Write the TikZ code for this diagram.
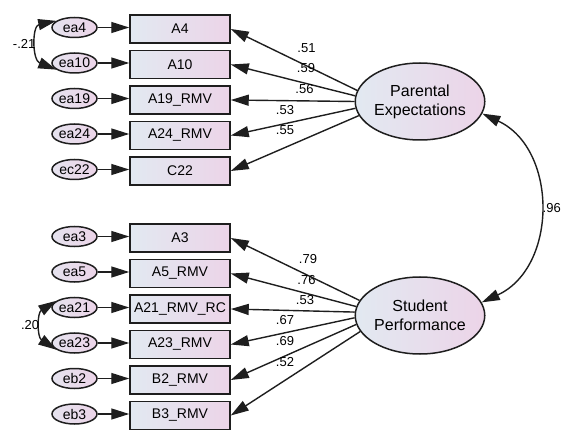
\documentclass[tikz,border=0pt]{standalone}
\usepackage{fontspec}
\setmainfont{Liberation Sans}
\usetikzlibrary{arrows.meta,shapes.geometric}
\definecolor{fillL}{RGB}{226,233,241}
\definecolor{fillR}{RGB}{236,212,232}
\definecolor{edgec}{RGB}{30,30,30}
\tikzset{
  obsbox/.style={draw=edgec, line width=1.5pt, rectangle, minimum width=100pt, minimum height=28pt, inner sep=0pt,
    left color=fillL, right color=fillR, font=\fontsize{14}{16}\selectfont},
  errell/.style={draw=edgec, line width=1.5pt, ellipse, minimum width=45pt, minimum height=20pt, inner sep=0pt,
    left color=fillL!70!fillR, right color=fillR, font=\fontsize{14}{16}\selectfont},
  latell/.style={draw=edgec, line width=1.5pt, ellipse, minimum width=120pt, minimum height=77pt, inner sep=0pt,
    left color=fillL, right color=fillR, align=center, font=\fontsize{16}{19}\selectfont},
  arr/.style={line width=1.4pt, draw=edgec, -{Triangle[length=18pt,width=11pt]}},
  dblarr/.style={line width=1.4pt, draw=edgec, {Triangle[length=18pt,width=11pt]}-{Triangle[length=18pt,width=11pt]}},
  lab/.style={inner sep=0pt, font=\fontsize{13}{15}\selectfont}
}
\begin{document}
\begin{tikzpicture}[x=1pt,y=-1pt]
\useasboundingbox (0,0) rectangle (562,430);
% observed boxes
\foreach \n/\t/\y in {A4/A4/29, A10/A10/64.5, A19/A19\_RMV/100, A24/A24\_RMV/135.5, C22/C22/171,
  A3/A3/238, A5/A5\_RMV/273.5, A21/A21\_RMV\_RC/309, A23/A23\_RMV/344.5, B2/B2\_RMV/380, B3/B3\_RMV/415.5}
  {\node[obsbox] (\n) at (180,\y) {\t};}
% error ellipses
\foreach \n/\t/\y in {ea4/ea4/27.5, ea10/ea10/63, ea19/ea19/98.5, ea24/ea24/134, ec22/ec22/169.5,
  ea3/ea3/236.5, ea5/ea5/272, ea21/ea21/307.5, ea23/ea23/343, eb2/eb2/378.5, eb3/eb3/414}
  {\node[errell] (\n) at (74.5,\y) {\t};}
% error arrows
\foreach \e/\b in {ea4/A4, ea10/A10, ea19/A19, ea24/A24, ec22/C22, ea3/A3, ea5/A5, ea21/A21, ea23/A23, eb2/B2, eb3/B3}
  {\draw[arr] (\e.east) -- (\e.east -| \b.west);}
% latent variables
\node[latell] (PE) at (420,101.5) {Parental\\Expectations};
\node[latell] (SP) at (420,315.5) {Student\\Performance};
% loadings
\draw[arr] (PE.170) -- (A4.east);
\draw[arr] (PE.175) -- (A10.east);
\draw[arr] (PE.180) -- (A19.east);
\draw[arr] (PE.186) -- (A24.east);
\draw[arr] (PE.193) -- (C22.east);
\draw[arr] (SP.166) -- (A3.east);
\draw[arr] (SP.172) -- (A5.east);
\draw[arr] (SP.177) -- (A21.east);
\draw[arr] (SP.182) -- (A23.east);
\draw[arr] (SP.188) -- (B2.east);
\draw[arr] (SP.195) -- (B3.east);
% loading labels
\node[lab] (l1) at (306.5,48) {.51};
\node[lab] (l2) at (306,68) {.59};
\node[lab] (l3) at (304.5,89) {.56};
\node[lab] (l4) at (285,110) {.53};
\node[lab] (l5) at (285,130.5) {.55};
\node[lab] (m1) at (308,259) {.79};
\node[lab] (m2) at (306.5,280) {.76};
\node[lab] (m3) at (305,300.5) {.53};
\node[lab] (m4) at (285,320.5) {.67};
\node[lab] (m5) at (285,341.5) {.69};
\node[lab] (m6) at (285,362) {.52};
% covariances
\draw[dblarr] (PE.349) .. controls (558,149) and (558,267) .. (SP.12)
  node[pos=0.5, right, lab, xshift=3pt] {.96};
\draw[dblarr] (ea4.160) .. controls (32,26) and (32,60) .. (ea10.200)
  node[pos=0.5, left, lab, xshift=-2pt] {-.21};
\draw[dblarr] (ea21.160) .. controls (37,313) and (37,337) .. (ea23.200)
  node[pos=0.5, left, lab, xshift=-2pt] {.20};
\end{tikzpicture}
\end{document}
